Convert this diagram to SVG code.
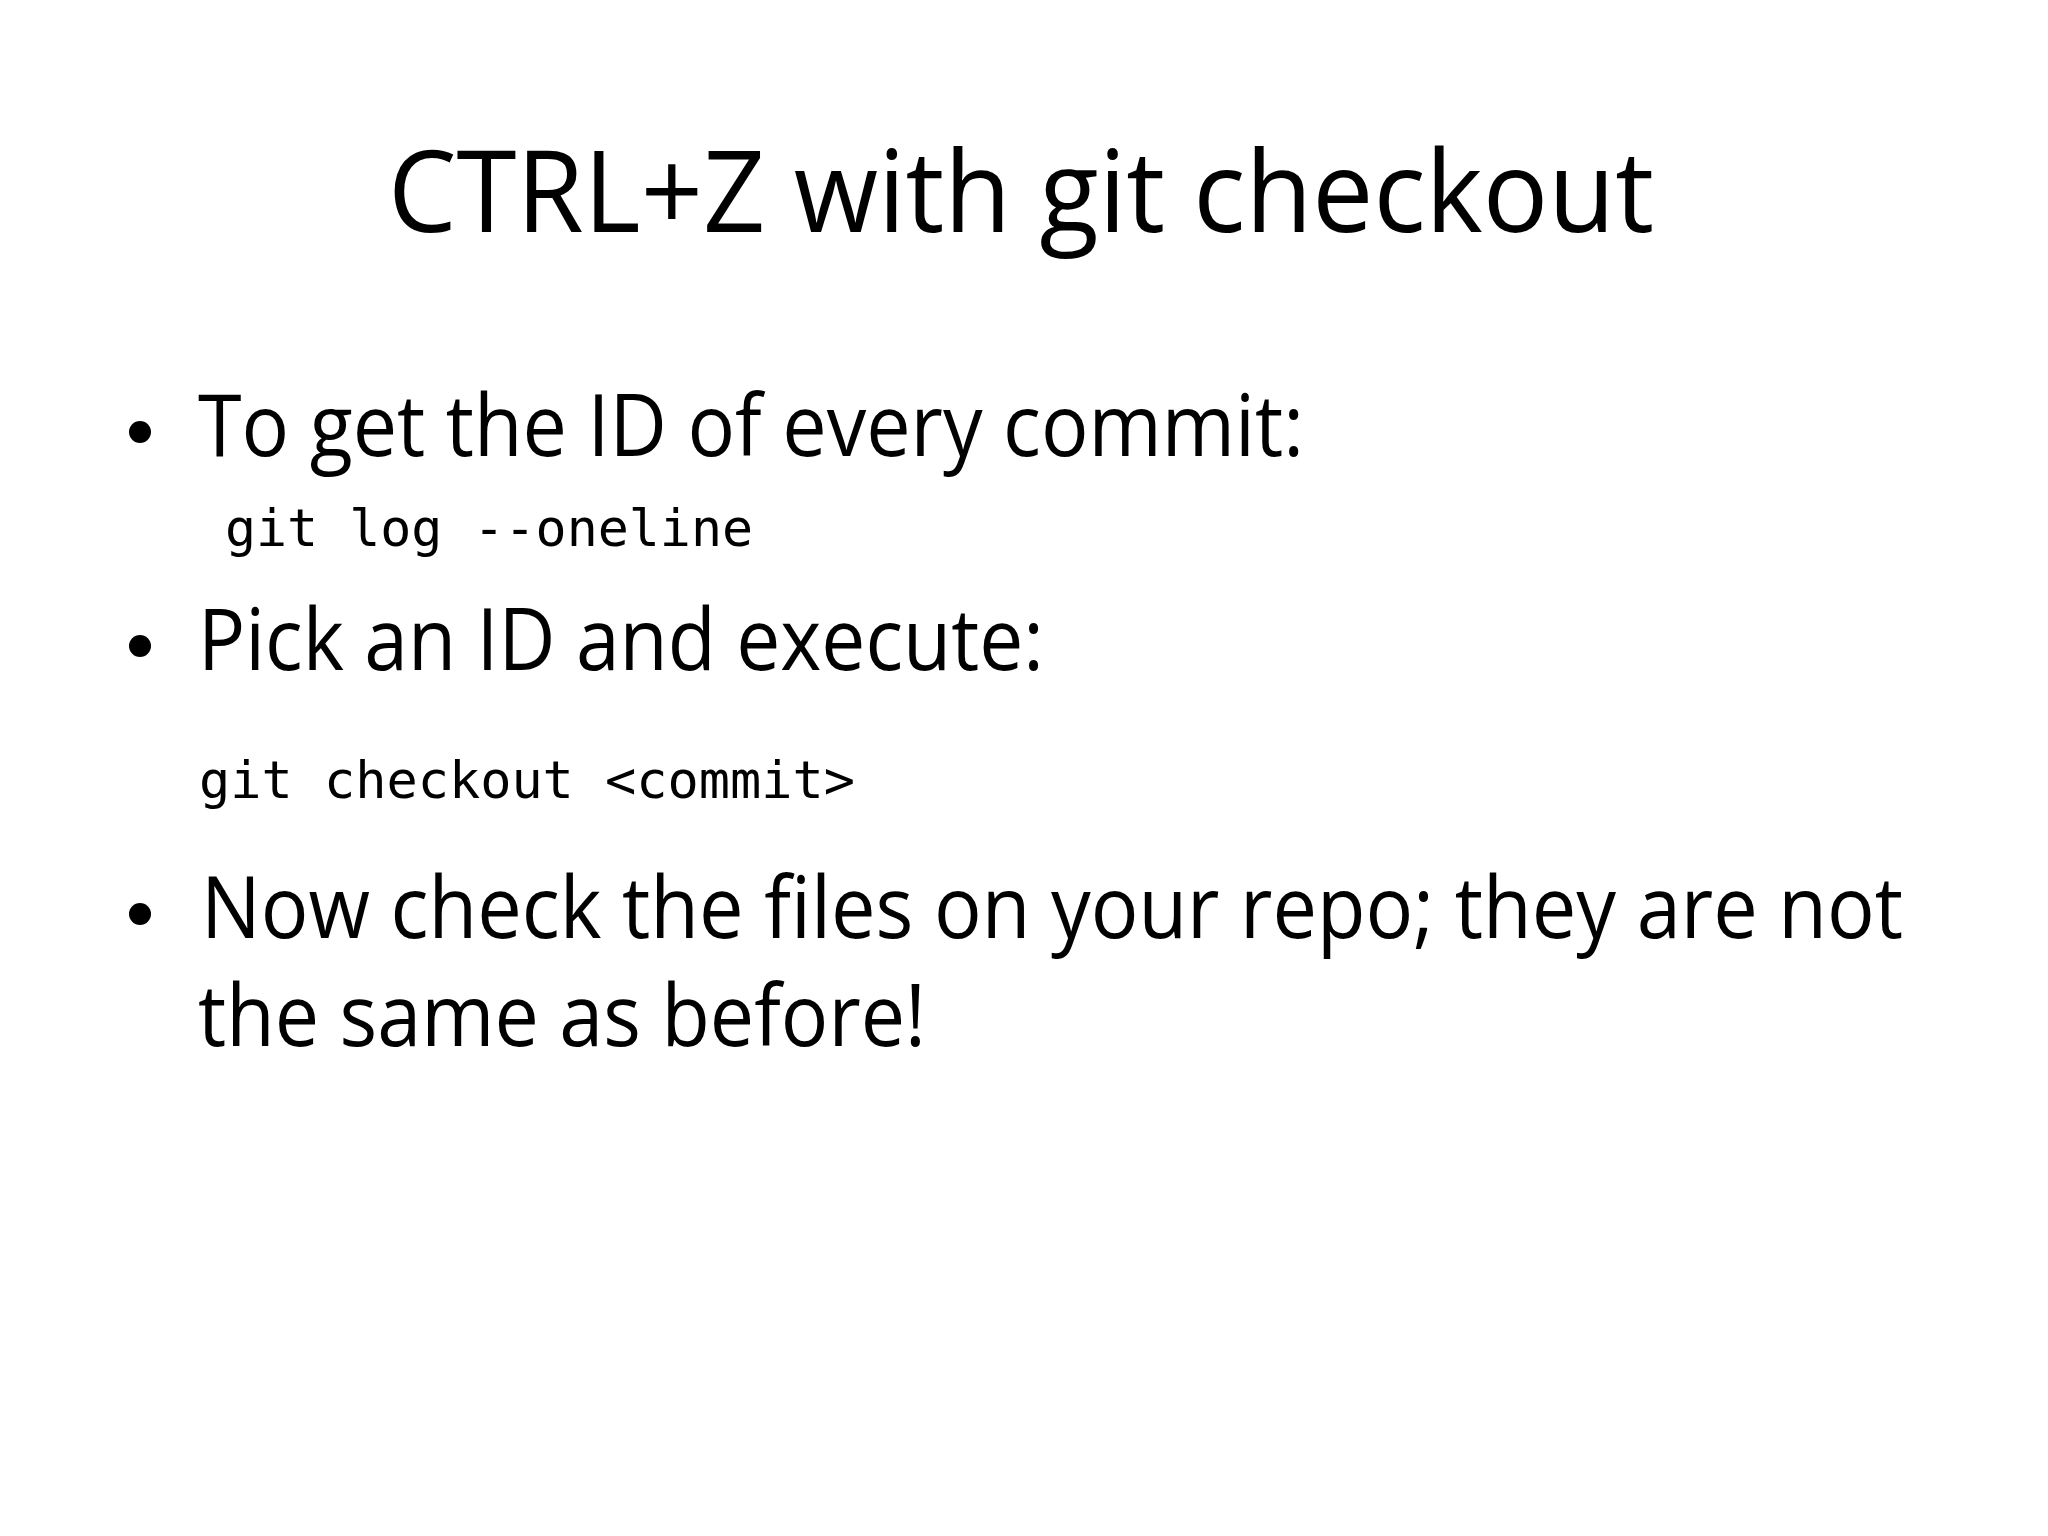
<svg xmlns="http://www.w3.org/2000/svg" width="2048" height="1536" viewBox="0 0 2048 1536">
<style>
.t{font-family:"Open Sans","Liberation Sans",sans-serif;fill:#000}
.m{font-family:"DejaVu Sans Mono","Liberation Mono",monospace;fill:#000;font-size:51px}
</style>
<rect width="2048" height="1536" fill="#fff"/>
<g id="title"><text class="t" x="388" y="232" font-size="113" textLength="1266" lengthAdjust="spacingAndGlyphs">CTRL+Z with git checkout</text></g>
<g id="body">
<circle cx="140" cy="432" r="11"/>
<text class="t" x="198" y="456" font-size="86" textLength="1106" lengthAdjust="spacingAndGlyphs">To get the ID of every commit:</text>
<text class="m" x="225" y="546" textLength="528" lengthAdjust="spacingAndGlyphs">git log --oneline</text>
<circle cx="140" cy="646" r="11"/>
<text class="t" x="198" y="670" font-size="86" textLength="846" lengthAdjust="spacingAndGlyphs">Pick an ID and execute:</text>
<text class="m" x="199" y="798" textLength="656" lengthAdjust="spacingAndGlyphs">git checkout &lt;commit&gt;</text>
<circle cx="140" cy="914" r="11"/>
<text class="t" x="201" y="938" font-size="86" textLength="1702" lengthAdjust="spacingAndGlyphs">Now check the files on your repo; they are not</text>
<text class="t" x="198" y="1046" font-size="86" textLength="728" lengthAdjust="spacingAndGlyphs">the same as before!</text>
</g>
</svg>
